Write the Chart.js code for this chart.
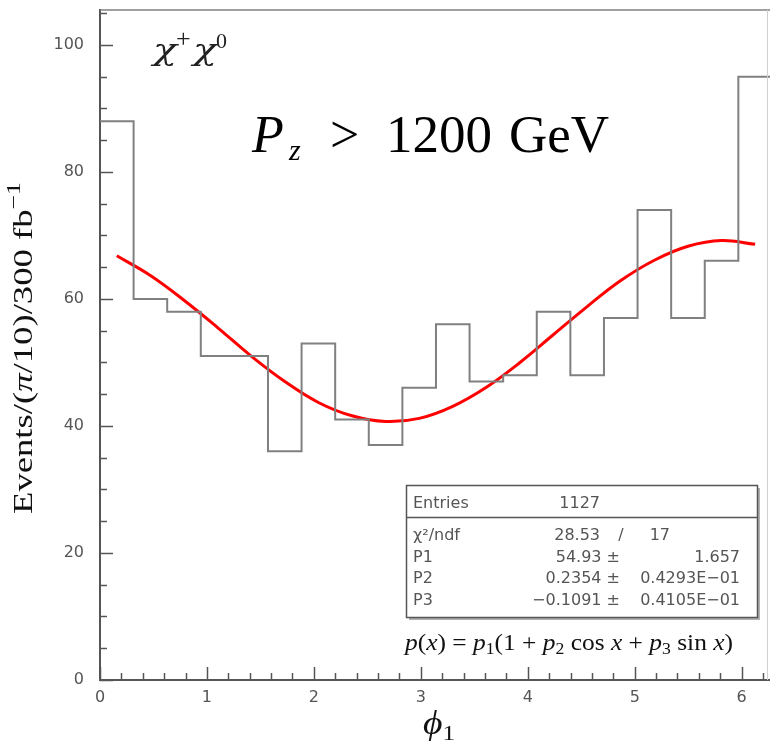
<!DOCTYPE html>
<html><head><meta charset="utf-8">
<script src="https://cdn.jsdelivr.net/npm/chart.js@4.4.0/dist/chart.umd.min.js"></script>
<style>html,body{margin:0;padding:0;background:#fff;}canvas{display:block;}</style>
</head><body>
<canvas id="c" width="770" height="744"></canvas>
<script>
// ---- data ----
const binWidth = Math.PI / 10;           // bins of pi/10 over [0, 2pi]
const counts = [88, 60, 58, 51, 51, 36, 53, 41, 37, 46, 56, 47, 48, 58, 48, 57, 74, 57, 66, 95];
const fitCurve = [66.8, 63.7, 59.8, 55.5, 51.0, 47.0, 43.7, 41.6, 40.7, 41.2, 43.1, 46.1, 50.0, 54.4, 58.8, 62.9, 66.1, 68.3, 69.2, 68.6];
const xTickLabels = ['0', '1', '2', '3', '4', '5', '6'];
const yTickLabels = ['0', '20', '40', '60', '80', '100'];
const statsEntries = ['Entries', '1127'];
const statsChi = ['χ²/ndf', '28.53', '/', '17'];
const statsParams = [
  ['P1', '54.93 ±', '1.657'],
  ['P2', '0.2354 ±', '0.4293E−01'],
  ['P3', '−0.1091 ±', '0.4105E−01']
];

const histPoints = counts.map((v, i) => ({x: i * binWidth, y: v}));
histPoints.push({x: counts.length * binWidth, y: counts[counts.length - 1]});
const fitPoints = fitCurve.map((v, i) => ({x: (i + 0.5) * binWidth, y: v}));

const SERIF = '"Liberation Serif", "DejaVu Serif", serif';
const DSERIF = '"DejaVu Serif", serif';
const SANS = '"DejaVu Sans", sans-serif';

function richWidth(ctx, segs) {
  let w = 0;
  for (const s of segs) { ctx.font = s.f; w += ctx.measureText(s.t).width; }
  return w;
}
function drawRich(ctx, segs, x, y, target, color) {
  const w = richWidth(ctx, segs);
  const sx = target ? target / w : 1;
  ctx.save();
  ctx.translate(x, y);
  ctx.scale(sx, 1);
  ctx.fillStyle = color;
  ctx.textAlign = 'left';
  ctx.textBaseline = 'alphabetic';
  let cx = 0;
  for (const s of segs) {
    ctx.font = s.f;
    ctx.fillText(s.t, cx, s.dy || 0);
    cx += ctx.measureText(s.t).width;
  }
  ctx.restore();
}
function put(ctx, t, f, x, y, color, w) {
  ctx.save();
  ctx.font = f; ctx.fillStyle = color; ctx.textAlign = 'left'; ctx.textBaseline = 'alphabetic';
  if (w) {
    const m = ctx.measureText(t).width;
    ctx.translate(x, y); ctx.scale(w / m, 1); ctx.fillText(t, 0, 0);
  } else {
    ctx.fillText(t, x, y);
  }
  ctx.restore();
}

const decor = {
  id: 'decor',
  afterDatasetsDraw(chart) {
    const ctx = chart.ctx;
    const xs = chart.scales.x, ys = chart.scales.y;
    const a = chart.chartArea;
    ctx.save();
    // frame top + faint right
    ctx.strokeStyle = '#808080'; ctx.lineWidth = 1.5;
    ctx.beginPath(); ctx.moveTo(a.left, a.top); ctx.lineTo(a.right, a.top); ctx.stroke();
    ctx.strokeStyle = '#d0d0d0'; ctx.lineWidth = 1;
    ctx.beginPath(); ctx.moveTo(a.right - 2.5, a.top); ctx.lineTo(a.right - 2.5, a.bottom); ctx.stroke();
    // inward ticks
    ctx.strokeStyle = '#555'; ctx.lineWidth = 1.5;
    for (let v = 0; v <= ys.max + 1e-9; v += 5) {
      const p = Math.round(ys.getPixelForValue(v)) + 0.5;
      const len = (Math.abs(v % 20) < 1e-9) ? 13 : 7;
      ctx.beginPath(); ctx.moveTo(a.left, p); ctx.lineTo(a.left + len, p); ctx.stroke();
    }
    for (let k = 0; k * 0.2 <= xs.max + 1e-9; k++) {
      const v = k * 0.2;
      const p = Math.round(xs.getPixelForValue(v)) + 0.5;
      const len = (k % 5 === 0) ? 13 : 7;
      ctx.beginPath(); ctx.moveTo(p, a.bottom); ctx.lineTo(p, a.bottom - len); ctx.stroke();
    }
    ctx.restore();
  },
  afterDraw(chart) {
    const ctx = chart.ctx;
    ctx.save();
    // chi+ chi0
    put(ctx, 'χ', 'italic 30px ' + DSERIF, 153, 60, '#222', 24);
    put(ctx, '+', '26px ' + SERIF, 176, 47, '#222');
    put(ctx, 'χ', 'italic 30px ' + DSERIF, 193, 60, '#222', 24);
    put(ctx, '0', '22px ' + SERIF, 216, 48, '#222');
    // Pz > 1200 GeV
    put(ctx, 'P', 'italic 52px ' + SERIF, 252, 152, '#000');
    put(ctx, 'z', 'italic 30px ' + SERIF, 289, 160, '#000');
    put(ctx, '>', '52px ' + SERIF, 330, 152, '#000');
    put(ctx, '1200', '53px ' + SERIF, 386, 152, '#000');
    put(ctx, 'GeV', '53px ' + SERIF, 509, 152, '#000');
    // Y axis title (rotated)
    ctx.save();
    ctx.translate(32, 514);
    ctx.rotate(-Math.PI / 2);
    drawRich(ctx, [
      {t: 'Events/(', f: '27px ' + SERIF},
      {t: 'π', f: 'italic 27px ' + SERIF},
      {t: '/10)/300 fb', f: '27px ' + SERIF},
      {t: '−1', f: '19px ' + SERIF, dy: -12}
    ], 0, 0, 332, '#111');
    ctx.restore();
    // X axis title
    drawRich(ctx, [
      {t: 'ϕ', f: 'italic 33px ' + SERIF},
      {t: '1', f: '22px ' + SERIF, dy: 6}
    ], 423, 734, 32, '#111');
    // stats box
    ctx.fillStyle = '#fff';
    ctx.fillRect(406, 485, 351, 132);
    ctx.strokeStyle = '#b0b0b0'; ctx.lineWidth = 2;
    ctx.beginPath(); ctx.moveTo(759, 488); ctx.lineTo(759, 619); ctx.lineTo(409, 619); ctx.stroke();
    ctx.strokeStyle = '#555'; ctx.lineWidth = 1.5;
    ctx.strokeRect(406.5, 485.5, 351, 132);
    ctx.beginPath(); ctx.moveTo(406, 517.5); ctx.lineTo(757, 517.5); ctx.stroke();
    ctx.fillStyle = '#555';
    ctx.font = '16px ' + SANS;
    ctx.textBaseline = 'alphabetic';
    ctx.textAlign = 'left';
    ctx.fillText(statsEntries[0], 413, 508);
    ctx.textAlign = 'right';
    ctx.fillText(statsEntries[1], 600, 508);
    ctx.textAlign = 'left';
    ctx.fillText(statsChi[0], 413, 540);
    ctx.textAlign = 'right';
    ctx.fillText(statsChi[1], 600, 540);
    ctx.textAlign = 'center';
    ctx.fillText(statsChi[2], 621, 540);
    ctx.textAlign = 'right';
    ctx.fillText(statsChi[3], 670, 540);
    const rowY = [562, 583, 605];
    statsParams.forEach((r, i) => {
      ctx.textAlign = 'left'; ctx.fillText(r[0], 413, rowY[i]);
      ctx.textAlign = 'right'; ctx.fillText(r[1], 620, rowY[i]);
      ctx.fillText(r[2], 740, rowY[i]);
    });
    // formula
    const it = 'italic 23px ' + SERIF, rm = '23px ' + SERIF, sb = '16px ' + SERIF;
    drawRich(ctx, [
      {t: 'p', f: it}, {t: '(', f: rm}, {t: 'x', f: it}, {t: ') = ', f: rm},
      {t: 'p', f: it}, {t: '1', f: sb, dy: 4}, {t: '(1 + ', f: rm},
      {t: 'p', f: it}, {t: '2', f: sb, dy: 4}, {t: ' cos ', f: rm}, {t: 'x', f: it}, {t: ' + ', f: rm},
      {t: 'p', f: it}, {t: '3', f: sb, dy: 4}, {t: ' sin ', f: rm}, {t: 'x', f: it}, {t: ')', f: rm}
    ], 405, 650, 328, '#111');
    ctx.restore();
  }
};

function noPad(s) { s.paddingTop = 0; s.paddingBottom = 0; s.paddingLeft = 0; s.paddingRight = 0; }

new Chart(document.getElementById('c'), {
  type: 'line',
  data: {
    datasets: [
      {
        data: histPoints, stepped: true, borderColor: '#808080', borderWidth: 2,
        pointRadius: 0, fill: false, tension: 0
      },
      {
        data: fitPoints, borderColor: '#ff0000', borderWidth: 3,
        pointRadius: 0, fill: false, tension: 0.4
      }
    ]
  },
  options: {
    responsive: false,
    animation: false,
    devicePixelRatio: 1,
    layout: {padding: {top: 10, right: 0, left: 0, bottom: 0}},
    plugins: {legend: {display: false}, tooltip: {enabled: false}},
    scales: {
      x: {
        type: 'linear', min: 0, max: 6.265,
        afterBuildTicks: s => { s.ticks = xTickLabels.map(t => ({value: Number(t)})); },
        afterFit: s => { s.height = 64; noPad(s); },
        grid: {display: false, drawTicks: false},
        border: {display: true, color: '#555', width: 2},
        ticks: {
          autoSkip: false, maxRotation: 0, padding: 8, color: '#555',
          font: {family: 'DejaVu Sans', size: 16},
          callback: (v, i) => xTickLabels[i]
        }
      },
      y: {
        type: 'linear', min: 0, max: 105.5,
        afterBuildTicks: s => { s.ticks = yTickLabels.map(t => ({value: Number(t)})); },
        afterFit: s => { s.width = 100; noPad(s); },
        grid: {display: false, drawTicks: false},
        border: {display: true, color: '#555', width: 2},
        ticks: {
          autoSkip: false, padding: 16, color: '#555',
          font: {family: 'DejaVu Sans', size: 16},
          callback: (v, i) => yTickLabels[i]
        }
      }
    }
  },
  plugins: [decor]
});
</script>
</body></html>
